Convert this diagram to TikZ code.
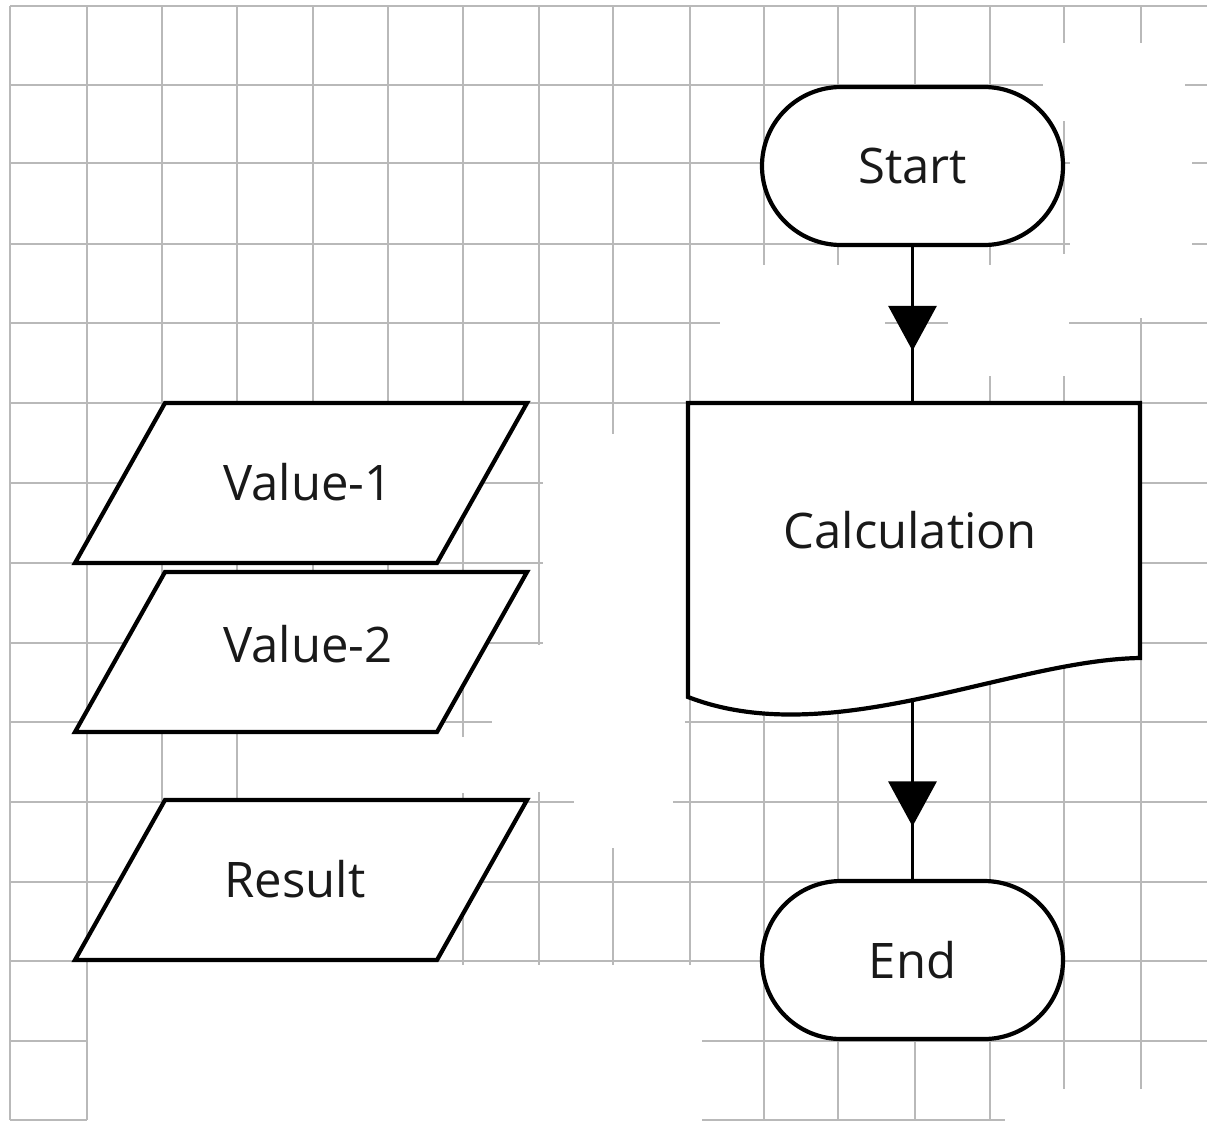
\documentclass[tikz,border=0pt]{standalone}
\usepackage{fontspec}
\setmainfont{Open Sans}
\usetikzlibrary{shapes.misc,arrows.meta,decorations.markings}
\begin{document}
\begin{tikzpicture}[x=1pt,y=-1pt,
  gridline/.style={draw=gray!55, line width=1.8pt},
  shapeline/.style={draw=black, line width=4.2pt, fill=white, line join=miter},
  terminal/.style={shapeline, rounded rectangle, minimum width=301pt, minimum height=158pt, inner sep=0pt, font=\fontsize{49}{56}\selectfont, text=black!90},
  txt/.style={font=\fontsize{49}{56}\selectfont, inner sep=0pt, text=black!90},
  flow/.style={line width=3.4pt, draw=black, postaction=decorate}]
\fill[white] (0,0) rectangle (1207,1120);
\useasboundingbox (0,0) rectangle (1207,1120);
% grid (partly erased as in the reference)
\foreach \x/\ya/\yb in {10/6/1120, 87/6/1120, 162/6/802, 237/6/802, 313/6/732, 388/6/732,
  463/6/737, 463/793/965, 539/6/645, 539/792/965, 613/6/434, 613/848/965, 690/6/965,
  764/6/265, 764/403/1120, 838/6/265, 838/403/1120, 915/6/90, 915/1040/1120,
  990/6/265, 990/376/1120, 1064/6/43, 1064/121/254, 1064/376/1089,
  1141/6/43, 1141/318/1089}
  \draw[gridline] (\x,\ya) -- (\x,\yb);
\foreach \y/\xa/\xb in {6/10/1207, 85/10/1043, 85/1185/1207, 163/10/1070, 163/1192/1207,
  244/10/1070, 244/1192/1207, 323/10/720, 323/885/948, 323/1069/1207, 403/10/1207,
  483/10/543, 483/1141/1207, 563/10/543, 563/1141/1207, 643/10/543, 643/1141/1207,
  722/10/492, 722/685/1207, 802/10/574, 802/673/1207, 882/10/1207, 961/10/1207,
  1041/10/87, 1041/702/1207, 1120/10/87, 1120/702/1005}
  \draw[gridline] (\xa,\y) -- (\xb,\y);
% data shapes
\draw[shapeline] (165,403) -- (527,403) -- (437,563) -- (75,563) -- cycle;
\node[txt, anchor=base] (v1) at (308,500) {Value-1};
\draw[shapeline] (165,572) -- (527,572) -- (437,732) -- (75,732) -- cycle;
\node[txt, anchor=base] (v2) at (308,662) {Value-2};
\draw[shapeline] (165,800) -- (527,800) -- (437,960) -- (75,960) -- cycle;
\node[txt, anchor=base] (res) at (295,897) {Result};
% terminals
\node[terminal] (start) at (912.5,166) {Start};
\node[terminal] (end) at (912.5,960) {End};
% calculation (document shape)
\draw[shapeline] (688,403) -- (1140,403) -- (1140,658) .. controls (1010,660) and (830,752) .. (688,697) -- cycle;
\node[txt, anchor=base] (calc) at (910,548) {Calculation};
\coordinate (calctop) at (912.5,403);
\coordinate (calcbot) at (912.5,699);
% connectors
\draw[flow, decoration={markings, mark=at position 0.665 with {\arrow{Triangle[width=48pt,length=45pt]}}}] (start.south) -- (calctop);
\draw[flow, decoration={markings, mark=at position 0.708 with {\arrow{Triangle[width=48pt,length=45pt]}}}] (calcbot) -- (end.north);
\end{tikzpicture}
\end{document}
